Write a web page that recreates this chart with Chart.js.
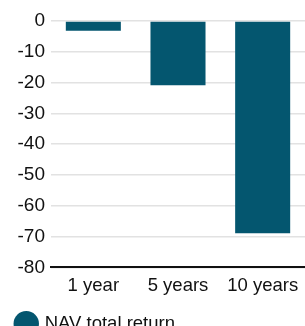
<!DOCTYPE html>
<html lang="en">
<head>
    <meta charset="UTF-8">
    <title>NAV total return</title>
    <script src="https://cdn.jsdelivr.net/npm/chart.js"></script>
    <style>
        body {
            margin: 0;
            background-color: #fff;
            overflow: hidden;
        }
        #wrap {
            width: 305px;
            height: 343px;
        }
    </style>
</head>
<body>
    <div id="wrap">
        <canvas id="navChart"></canvas>
    </div>

    <script>
        // Data
        const periods = ['1 year', '5 years', '10 years'];
        const navTotalReturn = [-3.2, -20.9, -68.9];
        const seriesName = 'NAV total return';

        const barColour = '#04566f';
        const ctx = document.getElementById('navChart').getContext('2d');

        new Chart(ctx, {
            type: 'bar',
            data: {
                labels: periods,
                datasets: [{
                    label: seriesName,
                    data: navTotalReturn,
                    backgroundColor: barColour,
                    borderWidth: 0,
                    barPercentage: 0.65,
                    categoryPercentage: 1
                }]
            },
            options: {
                responsive: true,
                maintainAspectRatio: false,
                animation: false,
                layout: {
                    padding: { top: 21, left: 0, right: 0, bottom: 0 }
                },
                scales: {
                    x: {
                        grid: { display: false },
                        border: { display: true, color: '#111', width: 2 },
                        ticks: {
                            color: '#111',
                            padding: 0,
                            font: { family: 'Liberation Sans', size: 18.5 }
                        }
                    },
                    y: {
                        min: -80,
                        max: 0,
                        afterFit: (scale) => { scale.width = 51; },
                        ticks: {
                            stepSize: 10,
                            color: '#111',
                            padding: 6,
                            font: { family: 'Liberation Sans', size: 19 }
                        },
                        grid: {
                            color: '#e2e2e2',
                            lineWidth: 1.5,
                            drawTicks: false
                        },
                        border: { display: false }
                    }
                },
                plugins: {
                    legend: {
                        position: 'bottom',
                        align: 'start',
                        labels: {
                            usePointStyle: true,
                            pointStyle: 'circle',
                            boxHeight: 18,
                            color: '#111',
                            padding: 17,
                            font: { family: 'Liberation Sans', size: 18.5 }
                        }
                    },
                    tooltip: { enabled: false }
                }
            }
        });
    </script>
</body>
</html>
